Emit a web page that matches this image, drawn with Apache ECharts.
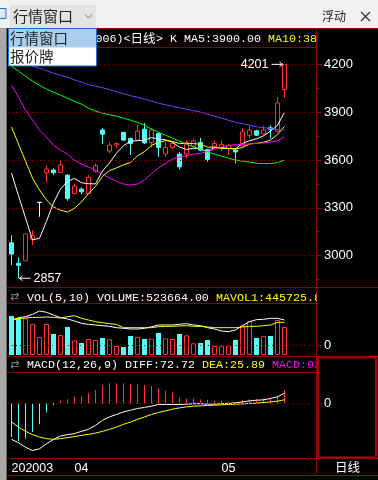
<!DOCTYPE html>
<html><head><meta charset="utf-8">
<script src="https://cdn.jsdelivr.net/npm/echarts@6/dist/echarts.min.js"></script>
<style>html,body{margin:0;padding:0;background:#000;overflow:hidden}#c{width:378px;height:480px}</style>
</head><body><div id="c"></div><script>
// ---------- data ----------
const dates = ['2020-03-19','2020-03-20','2020-03-23','2020-03-24','2020-03-25','2020-03-26','2020-03-27','2020-03-30','2020-03-31',
 '2020-04-01','2020-04-02','2020-04-03','2020-04-07','2020-04-08','2020-04-09','2020-04-10','2020-04-13','2020-04-14','2020-04-15','2020-04-16',
 '2020-04-17','2020-04-20','2020-04-21','2020-04-22','2020-04-23','2020-04-24','2020-04-27','2020-04-28','2020-04-29','2020-04-30',
 '2020-05-06','2020-05-07','2020-05-08','2020-05-11','2020-05-12','2020-05-13','2020-05-14','2020-05-15','2020-05-18','2020-05-19'];
const futureSlots = ['2020-05-20','2020-05-21','2020-05-22','2020-05-25'];
const open  = [3080,2951,2967,3102,3334,3520,3537,3522,3505,3390,3417,3390,3530,3788,3656,3695,3773,3735,3725,3794,3710,3767,3637,3679,3637,3637,3687,3710,3665,3679,3676,3673,3662,3689,3756,3783,3764,3802,3781,4043];
const close = [3009,2938,3135,3124,3334,3543,3520,3568,3359,3436,3400,3491,3564,3762,3693,3704,3725,3704,3781,3708,3788,3679,3679,3704,3557,3710,3720,3662,3604,3704,3698,3693,3651,3777,3788,3756,3788,3794,3959,4201];
const low   = [2940,2857,2967,3066,3243,3459,3505,3520,3344,3384,3384,3385,3520,3700,3641,3673,3720,3631,3720,3700,3680,3620,3620,3666,3541,3610,3680,3655,3589,3670,3655,3631,3579,3685,3735,3750,3760,3735,3773,3990];
const high  = [3128,2988,3135,3160,3334,3562,3547,3593,3511,3453,3428,3505,3579,3802,3714,3704,3778,3740,3823,3833,3800,3770,3714,3714,3651,3725,3735,3739,3670,3725,3720,3700,3673,3798,3813,3790,3815,3819,3997,4201];
const ma5  = [3518,3376,3236,3098,3108,3215,3331,3418,3465,3485,3457,3451,3450,3531,3582,3643,3690,3718,3721,3724,3741,3732,3727,3712,3681,3666,3674,3671,3651,3680,3678,3672,3670,3705,3721,3733,3752,3781,3817,3900];
const ma10 = [3807,3700,3593,3486,3411,3349,3304,3285,3273,3297,3336,3391,3434,3498,3534,3550,3570,3584,3626,3653,3692,3711,3722,3717,3703,3704,3703,3699,3681,3681,3672,3673,3670,3678,3701,3705,3712,3725,3761,3811];
const ma20 = [4070,3995,3913,3850,3788,3744,3693,3662,3637,3599,3574,3555,3536,3511,3486,3467,3449,3443,3449,3474,3514,3551,3578,3607,3618,3627,3637,3641,3654,3667,3682,3692,3696,3697,3702,3704,3708,3712,3721,3746];
const ma30 = [4189,4158,4126,4095,4070,4045,4026,4007,3988,3969,3951,3926,3907,3894,3884,3875,3863,3850,3837,3818,3794,3775,3756,3737,3718,3699,3683,3668,3652,3637,3624,3612,3599,3593,3587,3580,3577,3577,3584,3599];
const ma60 = [4233,4221,4205,4189,4177,4161,4145,4132,4120,4104,4089,4073,4064,4054,4042,4029,4017,4004,3995,3982,3970,3957,3947,3938,3929,3919,3910,3901,3888,3875,3863,3850,3837,3828,3819,3809,3803,3797,3791,3788];
const volume = [729000,686000,686000,580000,337000,580000,393000,374000,524000,275000,224000,299000,281000,318000,294000,168000,150000,355000,337000,299000,305000,411000,312000,299000,393000,368000,219000,224000,281000,168000,174000,174000,281000,555000,636000,318000,355000,355000,655000,523664];
const mavolW = [654000,698000,717000,760000,823000,798000,748000,698000,673000,636000,592000,573000,561000,549000,536000,511000,499000,486000,486000,499000,530000,561000,561000,561000,573000,586000,561000,549000,511000,486000,449000,436000,468000,549000,623000,661000,667000,686000,686000,654000];
const mavolY = [654000,679000,692000,704000,704000,711000,704000,692000,717000,735000,686000,654000,623000,604000,586000,573000,511000,511000,511000,511000,511000,530000,536000,536000,542000,549000,536000,536000,524000,511000,511000,511000,511000,524000,536000,536000,549000,561000,611000,611000];
const diff = [-251,-275,-306,-329,-317,-282,-251,-228,-218,-211,-195,-181,-153,-118,-94,-77,-59,-47,-35,-28,-19,-7,-7,-7,-7,-5,-2,-2,-5,-5,-2,0,5,11,18,23,25,35,46,72.72];
const dea  = [-130,-165,-195,-218,-235,-246,-251,-246,-239,-232,-223,-216,-207,-195,-181,-165,-146,-130,-111,-94,-77,-63,-52,-40,-31,-24,-19,-17,-14,-12,-10,-7,-5,-3,0,2,7,11,16,25.89];
const macd = [-234,-265,-246,-199,-146,-63,-12,21,30,47,51,70,94,129,141,141,141,136,134,129,122,106,89,77,40,35,35,30,26,19,19,12,7,26,30,30,35,40,54,93.66];
const priceLabels = [3000,3300,3600,3900,4200];
const titleTexts = ['(000006)<','日线','> K MA5:3900.00','MA10:3811.00'];
const volTexts = ['VOL(5,10) VOLUME:523664.00','MAVOL1:445725.80'];
const macdTexts = ['MACD(12,26,9) DIFF:72.72','DEA:25.89','MACD:93.66'];

// ---------- styling ----------
const RED='#ff3232', CYAN='#54fcfc', DK='#8c0000';
const MONO='Liberation Mono', SANS='Liberation Sans', CJK='Noto Sans CJK SC';
const N = dates.length;
const cats = dates.concat(futureSlots);
const candle = dates.map((d,i)=>[open[i],close[i],low[i],high[i]]);
const volData = volume.map((v,i)=>({value:v,itemStyle: close[i]>=open[i]?{color:'#000',borderColor:RED,borderWidth:1}:{color:CYAN}}));
const macdData = macd.map(v=>({value:v,itemStyle:{color:v>=0?RED:CYAN}}));
const minor75=[], mid150=[];
for(let v=2850; v<=4300; v+=75){ minor75.push(v); if(v%150===0) mid150.push(v); }

const chart = echarts.init(document.getElementById('c'), null, {width:378,height:480});
const L=8, W=308;
function showLbl(i){ if(i>=N) return false; if(i===0) return true; return dates[i].slice(0,7)!==dates[i-1].slice(0,7); }
function dotted(val){ return {silent:true,symbol:['none','none'],label:{show:false},animation:false,
  lineStyle:{color:DK,type:[1,3],width:1},emphasis:{disabled:true},data:val.map(v=>({yAxis:v}))}; }
const plain = v => String(v);

const xBase = {type:'category',data:cats,boundaryGap:true,axisLine:{show:false},axisTick:{show:false},axisLabel:{show:false},splitLine:{show:false}};
const lineS = (name,data,color,xi,yi)=>({name,type:'line',data,xAxisIndex:xi,yAxisIndex:yi,symbol:'none',silent:true,z:3,
  lineStyle:{color,width:1},itemStyle:{color},animation:false});

chart.setOption({
  backgroundColor:'#000',
  animation:false,
  grid:[{left:L,width:W,top:48,height:238},{left:L,width:W,top:304,height:51},{left:L,width:W,top:372,height:86.5}],
  xAxis:[Object.assign({},xBase,{gridIndex:0}),Object.assign({},xBase,{gridIndex:1}),
    Object.assign({},xBase,{gridIndex:2,axisLabel:{show:true,color:'#fff',fontFamily:SANS,fontSize:12.5,margin:4,align:'left',
      interval:(i)=>showLbl(i),formatter:(v,i)=> i===0? v.slice(0,4)+v.slice(5,7) : v.slice(5,7)}})],
  yAxis:[
    {gridIndex:0,type:'value',position:'right',min:2808.4,max:4303.7,axisLine:{show:false},splitLine:{show:false},
     axisTick:{show:true,length:6,lineStyle:{color:DK},customValues:priceLabels},
     axisLabel:{show:true,color:'#fff',fontFamily:SANS,fontSize:13,margin:8,customValues:priceLabels,formatter:plain}},
    {gridIndex:0,type:'value',position:'right',min:2808.4,max:4303.7,axisLine:{show:false},splitLine:{show:false},
     axisTick:{show:true,length:4,lineStyle:{color:DK},customValues:mid150},axisLabel:{show:false}},
    {gridIndex:0,type:'value',position:'right',min:2808.4,max:4303.7,axisLine:{show:false},splitLine:{show:false},
     axisTick:{show:true,length:2,lineStyle:{color:DK},customValues:minor75},axisLabel:{show:false}},
    {gridIndex:1,type:'value',min:0,max:953700,show:false},
    {gridIndex:1,type:'value',position:'right',min:-10,max:41,axisLine:{show:false},splitLine:{show:false},
     axisTick:{show:true,length:6,lineStyle:{color:DK},customValues:[0]},
     axisLabel:{show:true,color:'#fff',fontFamily:SANS,fontSize:13,margin:8,customValues:[0],formatter:plain}},
    {gridIndex:2,type:'value',position:'right',min:-385,max:220,axisLine:{show:false},splitLine:{show:false},
     axisTick:{show:true,length:6,lineStyle:{color:DK},customValues:[0]},
     axisLabel:{show:true,color:'#fff',fontFamily:SANS,fontSize:13,margin:8,customValues:[0],formatter:plain}}
  ],
  series:[
    {type:'candlestick',data:candle,xAxisIndex:0,yAxisIndex:0,barWidth:5,silent:true,z:2,
     itemStyle:{color:'#000',color0:CYAN,borderColor:RED,borderColor0:CYAN,borderColorDoji:'#ffffff',borderWidth:1},
     markLine:dotted(priceLabels)},
    lineS('MA5',ma5,'#ffffff',0,0),
    lineS('MA10',ma10,'#ffff00',0,0),
    lineS('MA20',ma20,'#ff00ff',0,0),
    lineS('MA30',ma30,'#00ff00',0,0),
    lineS('MA60',ma60,'#7040ff',0,0),
    {type:'bar',data:volData,xAxisIndex:1,yAxisIndex:3,barWidth:5,silent:true,z:2},
    {type:'line',data:[],xAxisIndex:1,yAxisIndex:4,markLine:dotted([0]),z:1},
    lineS('MAVOL1',mavolW,'#ffffff',1,3),
    lineS('MAVOL2',mavolY,'#ffff00',1,3),
    {type:'bar',data:macdData,xAxisIndex:2,yAxisIndex:5,barWidth:1,silent:true,z:2,markLine:dotted([0])},
    lineS('DIFF',diff,'#ffffff',2,5),
    lineS('DEA',dea,'#ffff00',2,5)
  ]
});

// ---------- frame / texts ----------
const g=[];
const ln=(x1,y1,x2,y2,c,w,z)=>g.push({type:'line',silent:true,z:z||50,shape:{x1,y1,x2,y2},style:{stroke:c,lineWidth:w||1}});
const rc=(x,y,w,h,fill,stroke,lw,z)=>g.push({type:'rect',silent:true,z:z||40,shape:{x,y,width:w,height:h},style:{fill:fill||'none',stroke:stroke||'none',lineWidth:lw||1}});
const tx=(x,y,t,c,fam,size,align,z)=>g.push({type:'text',silent:true,z:z||60,x,y,style:{text:t,fill:c,fontFamily:fam,fontSize:size,align:align||'left',verticalAlign:'middle'}});

// top window bar
rc(0,0,378,28.5,'#f0f0f0',null,1,40);
rc(-4,8.5,10,10,'#dce9f8','#1e6fd0',1,41);
rc(10,5,86,23,'#e3e3e3',null,1,41);
tx(13,16.5,'行情窗口','#222',CJK,15,'left',42);
g.push({type:'polyline',silent:true,z:42,shape:{points:[[85,14.5],[88.5,18],[92,14.5]]},style:{stroke:'#777',lineWidth:1,fill:'none'}});
tx(322,16.5,'浮动','#222',CJK,12,'left',42);
ln(361,12,370,21,'#333',1.3,42); ln(370,12,361,21,'#333',1.3,42);
// left gray strip
rc(0,28.5,6,452,'#a9a9a9',null,1,40);
ln(6.5,28.5,6.5,480,'#6a6a6a',1,41);
// separators
ln(7,28.5,378,28.5,DK); ln(7,47.5,316.5,47.5,DK);
ln(316.5,28.5,316.5,475.5,DK);
ln(7,287.5,378,287.5,DK); ln(7,303.5,316.5,303.5,DK);
ln(7,356.5,378,356.5,DK); ln(7,372.5,316.5,372.5,DK);
ln(7,458.5,378,458.5,DK); ln(7,475.5,378,475.5,DK);
// headers
tx(67.5,38.5,titleTexts[0],'#fff',MONO,11.67); tx(130.5,38.5,titleTexts[1],'#fff',CJK,12.5);
tx(156,38.5,titleTexts[2],'#fff',MONO,11.67); tx(268,38.5,titleTexts[3],'#ffff00',MONO,11.67);
tx(10,297.5,'⇄','#8a8a8a','DejaVu Sans',11); tx(27,297.5,volTexts[0],'#fff',MONO,11.67); tx(216,297.5,volTexts[1],'#ffff00',MONO,11.67);
tx(10,365,'⇄','#8a8a8a','DejaVu Sans',11); tx(27,365,macdTexts[0],'#fff',MONO,11.67); tx(202,365,macdTexts[1],'#ffff00',MONO,11.67); tx(272,365,macdTexts[2],'#ff00ff',MONO,11.67);
// clip overflowing header texts
rc(317,29,61,18,'#000',null,1,70); rc(317,288,61,15,'#000',null,1,70); rc(317,357,61,15,'#000',null,1,70);
// right column
rc(318,357.5,58,100,'none','#b00000',2,80);
tx(335,467,'日线','#fff',CJK,12.5);
// dropdown list
rc(8.5,28.5,88,37.5,'#ffffff','#1874d0',1,100);
rc(9,29,87,18.5,'#a9cdeb',null,1,101);
tx(10,38.5,'行情窗口','#222',CJK,14.5,'left',102);
tx(10,56.5,'报价牌','#222',CJK,14.5,'left',102);
// high / low annotations positioned via the axes
const pH = chart.convertToPixel({gridIndex:0},[N-1,Math.max(...high)]);
const iL = low.indexOf(Math.min(...low));
const pL = chart.convertToPixel({gridIndex:0},[iL,Math.min(...low)]);
tx(pH[0]-16,pH[1],String(Math.max(...high)),'#fff',SANS,12.5,'right',60);
ln(pH[0]-13,pH[1],pH[0]-2,pH[1],'#fff',1,60);
g.push({type:'polyline',silent:true,z:60,shape:{points:[[pH[0]-5,pH[1]-2.5],[pH[0]-2,pH[1]],[pH[0]-5,pH[1]+2.5]]},style:{stroke:'#fff',fill:'none'}});
ln(pL[0]+1,pL[1],pL[0]+12,pL[1],'#fff',1,60);
g.push({type:'polyline',silent:true,z:60,shape:{points:[[pL[0]+4,pL[1]-2.5],[pL[0]+1,pL[1]],[pL[0]+4,pL[1]+2.5]]},style:{stroke:'#fff',fill:'none'}});
tx(pL[0]+15,pL[1],String(Math.min(...low)),'#fff',SANS,12.5,'left',60);
chart.setOption({graphic:{elements:g}});
</script></body></html>
